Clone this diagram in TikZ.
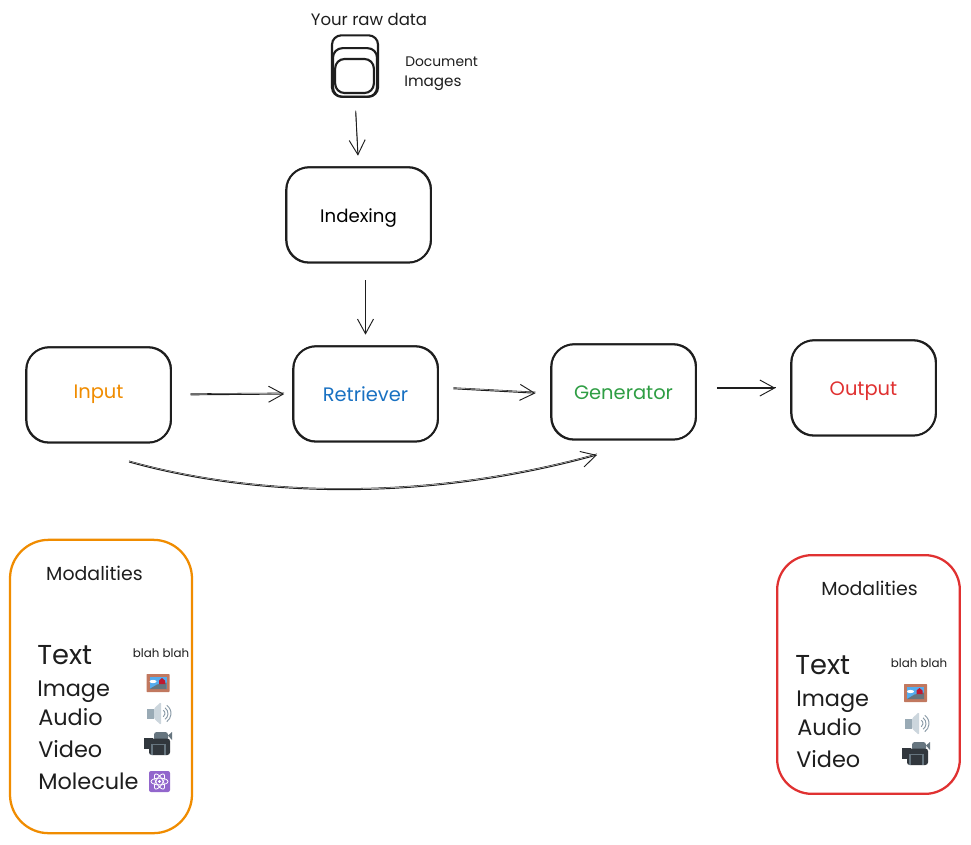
\documentclass[tikz,border=0pt]{standalone}
\usepackage{fontspec}
\setmainfont{Poppins}
\usetikzlibrary{arrows.meta,calc}
\definecolor{ink}{HTML}{1E1E1E}
\definecolor{cinput}{HTML}{F08C00}
\definecolor{cretr}{HTML}{1971C2}
\definecolor{cgen}{HTML}{2F9E44}
\definecolor{cout}{HTML}{E03131}
\tikzset{
  x=0.75pt,y=-0.75pt,
  flowbox/.style={draw=ink,line width=1.5pt,rounded corners=17pt,minimum width=108.5pt,minimum height=71.5pt,inner sep=0pt,
    preaction={draw=ink,line width=.7pt,transform canvas={xshift=.5pt,yshift=.4pt}},
    text height=14.5pt,text depth=3.5pt,
    font=\fontsize{14.6}{17}\selectfont},
  stackbox/.style={draw=ink,line width=1.6pt,rounded corners=7pt,inner sep=0pt},
  panel/.style={draw=#1,line width=1.7pt,rounded corners=29pt,inner sep=0pt},
  label/.style={anchor=west,inner sep=0pt,text=ink,text height=11pt,text depth=2.5pt,font=\fontsize{10.4}{12}\selectfont},
  title/.style={inner sep=0pt,text=ink,font=\fontsize{14.2}{17}\selectfont},
  modality/.style={anchor=west,inner sep=0pt,text=ink,text height=16pt,text depth=4pt,font=\fontsize{16.8}{20}\selectfont},
  blah/.style={inner sep=0pt,text=ink,font=\fontsize{8.9}{11}\selectfont},
  flow/.style={draw=ink,line width=.7pt,-{Straight Barb[length=11pt,width=12pt,line width=.7pt]},
    preaction={draw=ink,line width=.4pt,-,transform canvas={yshift=.9pt}}},
  pics/imgicon/.style={code={
    \fill[rounded corners=.5pt,fill={rgb,255:red,193;green,120;blue,95}] (-11.5,-9) rectangle (11.5,9);
    \fill[fill={rgb,255:red,85;green,172;blue,238}] (-8.5,-6) rectangle (8.5,6);
    \fill[white] (-5,-1.5) ellipse (3.5 and 1.6);
    \fill[fill={rgb,255:red,102;green,117;blue,127}] (-8.5,6) -- (-1,1.5) -- (8.5,-.5) -- (8.5,6) -- cycle;
    \fill[fill={rgb,255:red,190;green,25;blue,49}] (1,1) -- (1,-2.5) -- (4,-5) -- (7,-2.5) -- (7,1) -- cycle;
  }},
  pics/audioicon/.style={code={
    \fill[fill={rgb,255:red,153;green,170;blue,181}] (-12,-5) rectangle (-5,5);
    \fill[rounded corners=1pt,fill={rgb,255:red,204;green,214;blue,221}] (-5,-5) -- (2,-11.5) -- (2,11.5) -- (-5,5) -- cycle;
    \foreach \r in {4,7,10}{
      \draw[line width=.7pt,draw={rgb,255:red,136;green,153;blue,166}] (2,0) ++(-55:\r) arc[start angle=-55,end angle=55,radius=\r];}
  }},
  pics/camicon/.style={code={
    \fill[rounded corners=2pt,fill={rgb,255:red,102;green,117;blue,127}] (-4,-11.5) rectangle (10,-3);
    \fill[fill={rgb,255:red,102;green,117;blue,127}] (10,-8) -- (14,-11.5) -- (14,-3.5) -- cycle;
    \fill[rounded corners=2pt,fill={rgb,255:red,49;green,55;blue,61}] (-9,-5) rectangle (12,11.5);
    \fill[fill={rgb,255:red,49;green,55;blue,61}] (-14,-6) rectangle (-5,5);
    \draw[line width=.8pt,draw={rgb,255:red,102;green,117;blue,127}] (-6,11) -- (-6,1) -- (7,1) -- (7,11);
  }},
  pics/atomicon/.style={code={
    \fill[rounded corners=1.5pt,fill={rgb,255:red,146;green,102;blue,204}] (-10.5,-10.5) rectangle (10.5,10.5);
    \foreach \a in {0,60,120}{
      \draw[white,line width=.6pt,rotate=\a] (0,0) ellipse (8.5 and 3.4);}
    \fill[white] (0,0) circle (1.6);
  }},
}
\begin{document}
\begin{tikzpicture}
\useasboundingbox[fill=white] (0,0) rectangle (971,844);

% raw data
\node[title,font=\fontsize{12.4}{15}\selectfont] (rawtitle) at (369,19) {Your raw data};
\node[stackbox,minimum width=34.5pt,minimum height=46pt] (stackA) at (355,66) {};
\node[stackbox,minimum width=33pt,minimum height=36.5pt] (stackB) at (355,72.5) {};
\node[stackbox,minimum width=29pt,minimum height=25.5pt] (stackC) at (354.5,76) {};
\node[label] (docs) at (405,61) {Document};
\node[label,font=\fontsize{11.4}{13}\selectfont] (imgs) at (404,81) {Images};

% flow boxes
\node[flowbox,font=\fontsize{13.6}{16}\selectfont] (indexing) at (358.5,215) {Indexing};
\node[flowbox,text=cinput,text depth=9pt] (input) at (98.5,395) {Input};
\node[flowbox,text=cretr] (retriever) at (365.5,394) {Retriever};
\node[flowbox,text=cgen] (generator) at (623.5,392) {Generator};
\node[flowbox,text=cout] (output) at (863.5,388) {Output};

% connectors
\draw[flow,shorten <=10.5pt,shorten >=8pt] (stackA.south) -- (indexing.north);
\draw[flow,shorten <=13.5pt,shorten >=8pt] (indexing.south -| retriever.north) -- (retriever.north);
\draw[flow,shorten <=14pt,shorten >=6pt] (input.east) -- (retriever.west);
\draw[flow,shorten <=11pt,shorten >=11pt] ($(retriever.east)+(0,-6)$) -- ($(generator.west)+(0,2)$);
\draw[flow,shorten <=15pt,shorten >=11pt] (generator.east |- output.west) -- (output.west);
\coordinate (skipstart) at (129,462);
\coordinate (skipend) at (597,455);
\draw[flow] (skipstart) .. controls (250,496) and (420,504) .. (skipend);

% left panel
\node[panel=cinput,minimum width=136.5pt,minimum height=220pt] (leftpanel) at (101,686.5) {};
\node[title] (lmod) at (94.5,573) {Modalities};
\node[modality,font=\fontsize{20.5}{24}\selectfont,text height=20pt] (ltext) at (37,654) {Text};
\node[modality] (limage) at (37,688) {Image};
\node[modality] (laudio) at (38,717) {Audio};
\node[modality] (lvideo) at (38,749) {Video};
\node[modality] (lmol) at (38,781) {Molecule};
\node[blah] (lblah) at (161,653) {blah blah};
\pic at (158,683) {imgicon};
\pic at (159,713.5) {audioicon};
\pic at (158,743.5) {camicon};
\pic at (159.5,781.5) {atomicon};

% right panel
\node[panel=cout,minimum width=137pt,minimum height=179pt,rounded corners=26pt] (rightpanel) at (868.5,674.5) {};
\node[title] (rmod) at (869.5,588) {Modalities};
\node[modality,font=\fontsize{20.5}{24}\selectfont,text height=20pt] (rtext) at (795,664) {Text};
\node[modality] (rimage) at (796,698) {Image};
\node[modality] (raudio) at (797,727) {Audio};
\node[modality] (rvideo) at (796,759) {Video};
\node[blah] (rblah) at (919,663) {blah blah};
\pic at (915.5,693) {imgicon};
\pic at (917,723.5) {audioicon};
\pic at (916,753.5) {camicon};
\end{tikzpicture}
\end{document}
